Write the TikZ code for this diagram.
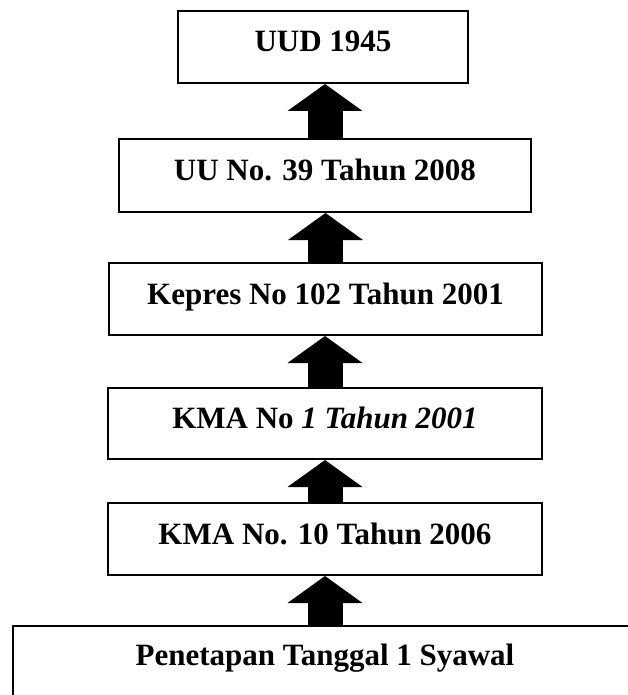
\documentclass[tikz,border=0pt]{standalone}
\usepackage{fontspec}
\setmainfont{Liberation Serif}
\usetikzlibrary{arrows.meta}
\begin{document}
\begin{tikzpicture}[x=1pt,y=-1pt,
  txt/.style={font=\fontsize{31}{37}\selectfont\bfseries},
  box/.style={draw, line width=2pt, inner sep=0pt, minimum height=72pt,
    text height=20pt, text depth=10pt, txt},
  blockarrow/.style={line width=35pt,
    -{Triangle[length=27pt,width=75pt,line width=0pt]}}]
\useasboundingbox (0,0) rectangle (628,695);
\clip (0,0) rectangle (628,695);
\node[box, minimum width=290pt] (uud) at (323,47) {UUD 1945};
\node[box, minimum width=412pt, minimum height=73pt] (uu) at (325,175.5) {UU No. 39 Tahun 2008};
\node[box, minimum width=433pt] (kepres) at (325.5,299) {Kepres No 102 Tahun 2001};
\node[box, minimum width=434pt, minimum height=71pt] (kma1) at (325,423.5) {KMA No \textit{1 Tahun 2001}};
\node[box, minimum width=434pt] (kma10) at (325,539) {KMA No. 10 Tahun 2006};
\node[draw, line width=2pt, inner sep=0pt, minimum width=700pt, minimum height=150pt,
  anchor=north west] (pen) at (12,625) {};
\node[txt, anchor=base] (pentext) at (325,665) {Penetapan Tanggal 1 Syawal};
\draw[blockarrow] (uu.north) -- (uu.north |- uud.south);
\draw[blockarrow] (kepres.north) -- (kepres.north |- uu.south);
\draw[blockarrow] (kma1.north) -- (kma1.north |- kepres.south);
\draw[blockarrow] (kma10.north) -- (kma10.north |- kma1.south);
\draw[blockarrow] (kma10.south |- pen.north) -- (kma10.south);
\end{tikzpicture}
\end{document}
